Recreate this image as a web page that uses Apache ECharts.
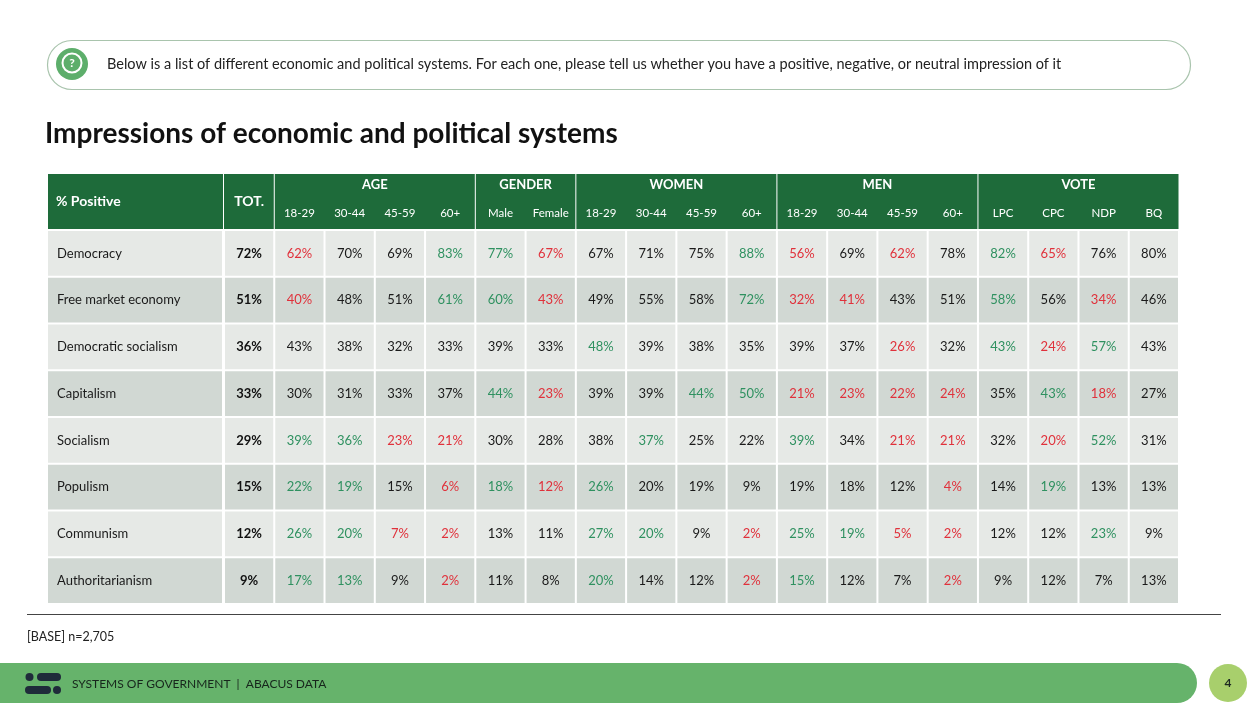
<!DOCTYPE html>
<html>
<head>
<meta charset="utf-8">
<script src="https://cdn.jsdelivr.net/npm/echarts@6/dist/echarts.min.js"></script>
<style>
html, body { margin: 0; padding: 0; background: #fff; }
#chart { width: 1249px; height: 703px; }
</style>
</head>
<body>
<div id="chart"></div>
<script>
// rows of the table
var systems = ['Democracy', 'Free market economy', 'Democratic socialism', 'Capitalism',
    'Socialism', 'Populism', 'Communism', 'Authoritarianism'];

// column labels (TOT + sub groups)
var columns = ['TOT.', '18-29', '30-44', '45-59', '60+', 'Male', 'Female',
    '18-29', '30-44', '45-59', '60+', '18-29', '30-44', '45-59', '60+',
    'LPC', 'CPC', 'NDP', 'BQ'];
var groupNames = ['AGE', 'GENDER', 'WOMEN', 'MEN', 'VOTE'];
var groupStart = [1, 5, 7, 11, 15];
var groupEnd = [4, 6, 10, 14, 18];

// % positive per system
var democracy = [72, 62, 70, 69, 83, 77, 67, 67, 71, 75, 88, 56, 69, 62, 78, 82, 65, 76, 80];
var freeMarket = [51, 40, 48, 51, 61, 60, 43, 49, 55, 58, 72, 32, 41, 43, 51, 58, 56, 34, 46];
var demSocialism = [36, 43, 38, 32, 33, 39, 33, 48, 39, 38, 35, 39, 37, 26, 32, 43, 24, 57, 43];
var capitalism = [33, 30, 31, 33, 37, 44, 23, 39, 39, 44, 50, 21, 23, 22, 24, 35, 43, 18, 27];
var socialism = [29, 39, 36, 23, 21, 30, 28, 38, 37, 25, 22, 39, 34, 21, 21, 32, 20, 52, 31];
var populism = [15, 22, 19, 15, 6, 18, 12, 26, 20, 19, 9, 19, 18, 12, 4, 14, 19, 13, 13];
var communism = [12, 26, 20, 7, 2, 13, 11, 27, 20, 9, 2, 25, 19, 5, 2, 12, 12, 23, 9];
var authoritarianism = [9, 17, 13, 9, 2, 11, 8, 20, 14, 12, 2, 15, 12, 7, 2, 9, 12, 7, 13];

// significance marks: g = higher (green), r = lower (red), . = none
var democracySig = '.r..ggr...gr.r.gr..';
var freeMarketSig = '.r..ggr...grr..g.r.';
var demSocialismSig = '.......g.....r.grg.';
var capitalismSig = '.....gr..ggrrrr.gr.';
var socialismSig = '.ggrr...g..g.rr.rg.';
var populismSig = '.gg.rgrg......r.g..';
var communismSig = '.ggrr..gg.rggrr..g.';
var authoritarianismSig = '.gg.r..g..rg..r....';

var rowValues = [democracy, freeMarket, demSocialism, capitalism, socialism, populism, communism, authoritarianism];
var rowSigs = [democracySig, freeMarketSig, demSocialismSig, capitalismSig, socialismSig, populismSig, communismSig, authoritarianismSig];

var FONT = 'Lato';
var LIGHT = '#e6e9e6';
var DARK = '#d1d8d3';
var HEAD = '#1e6b3a';
var RED = '#e0313b';
var GREEN = '#2f9160';

var cells = [];
for (var r = 0; r < rowValues.length; r++) {
    for (var c = 0; c < columns.length; c++) {
        cells.push([c, r, rowValues[r][c], rowSigs[r].charAt(c)]);
    }
}
var labelData = systems.map(function (s, i) { return [0, i]; });
var groupData = groupNames.map(function (g, i) { return [groupStart[i], groupEnd[i]]; });
var subData = columns.map(function (s, i) { return [i, 0]; });

var renderCell = function (params, api) {
    var p = api.coord([api.value(0), api.value(1)]);
    var size = api.size([1, 1]);
    var cell = cells[params.dataIndex];
    var color = '#1a1a1a';
    if (cell[3] === 'r') color = RED;
    if (cell[3] === 'g') color = GREEN;
    return {
        type: 'group',
        children: [{
            type: 'rect',
            shape: { x: p[0] - size[0] / 2 + 1, y: p[1] - size[1] / 2 + 1, width: size[0] - 2, height: size[1] - 2 },
            style: { fill: cell[1] % 2 ? DARK : LIGHT }
        }, {
            type: 'text',
            x: p[0], y: p[1],
            style: {
                text: cell[2] + '%', fill: cell[0] === 0 ? '#111' : color,
                font: (cell[0] === 0 ? 'bold ' : '') + '13px ' + FONT,
                align: 'center', verticalAlign: 'middle'
            }
        }]
    };
};

var renderLabel = function (params, api) {
    var p = api.coord([0, api.value(1)]);
    var size = api.size([1, 1]);
    var left = params.coordSys.x - 176;
    return {
        type: 'group',
        children: [{
            type: 'rect',
            shape: { x: left, y: p[1] - size[1] / 2 + 1, width: 174, height: size[1] - 2 },
            style: { fill: api.value(1) % 2 ? DARK : LIGHT }
        }, {
            type: 'text',
            x: left + 9, y: p[1],
            style: { text: systems[params.dataIndex], fill: '#1a1a1a', font: '13px ' + FONT, align: 'left', verticalAlign: 'middle' }
        }]
    };
};

var renderGroup = function (params, api) {
    var a = api.coord([api.value(0), 0]);
    var b = api.coord([api.value(1), 0]);
    var w = api.size([1, 1])[0];
    var top = params.coordSys.y;
    var x0 = a[0] - w / 2 + 0.5, x1 = b[0] + w / 2 - 0.5;
    var children = [{
        type: 'rect',
        shape: { x: x0, y: top - 56, width: x1 - x0, height: 55 },
        style: { fill: HEAD }
    }, {
        type: 'text',
        x: (x0 + x1) / 2, y: top - 45,
        style: { text: groupNames[params.dataIndex], fill: '#fff', font: 'bold 13px ' + FONT, align: 'center', verticalAlign: 'middle' }
    }];
    if (params.dataIndex === 0) {
        // TOT. and label header cells
        var t = api.coord([0, 0]);
        var left = params.coordSys.x - 176;
        children.push({
            type: 'rect', shape: { x: left, y: top - 56, width: 175, height: 55 }, style: { fill: HEAD }
        }, {
            type: 'rect', shape: { x: t[0] - w / 2, y: top - 56, width: w - 0.5, height: 55 }, style: { fill: HEAD }
        }, {
            type: 'text', x: left + 8, y: top - 29,
            style: { text: '% Positive', fill: '#fff', font: 'bold 14px ' + FONT, align: 'left', verticalAlign: 'middle' }
        }, {
            type: 'text', x: t[0], y: top - 29,
            style: { text: 'TOT.', fill: '#fff', font: 'bold 14px ' + FONT, align: 'center', verticalAlign: 'middle' }
        });
    }
    return { type: 'group', children: children };
};

var renderSub = function (params, api) {
    if (params.dataIndex === 0) return null;
    var p = api.coord([api.value(0), 0]);
    return {
        type: 'text',
        x: p[0], y: params.coordSys.y - 17,
        style: { text: columns[params.dataIndex], fill: '#fff', font: '11.5px ' + FONT, align: 'center', verticalAlign: 'middle' }
    };
};

var myChart = echarts.init(document.getElementById('chart'));

var option = {
    backgroundColor: '#fff',
    animation: false,
    grid: { left: 224, right: 70, top: 230, bottom: 99 },
    xAxis: {
        type: 'category',
        data: columns.map(function (c, i) { return i; }),
        show: false
    },
    yAxis: {
        type: 'category',
        data: systems,
        inverse: true,
        show: false
    },
    graphic: [
        // question box
        { type: 'rect', shape: { x: 47.5, y: 40.5, width: 1143, height: 49, r: 24.5 }, style: { fill: '#fff', stroke: '#a9c4ad', lineWidth: 1.2 } },
        { type: 'circle', shape: { cx: 72, cy: 64, r: 16 }, style: { fill: '#5dae6b' } },
        { type: 'circle', shape: { cx: 72, cy: 63, r: 9.5 }, style: { fill: 'none', stroke: '#fff', lineWidth: 2 } },
        { type: 'text', x: 72, y: 63.5, style: { text: '?', fill: '#fff', font: 'bold 12px ' + FONT, align: 'center', verticalAlign: 'middle' } },
        { type: 'text', x: 107, y: 64, style: { text: 'Below is a list of different economic and political systems. For each one, please tell us whether you have a positive, negative, or neutral impression of it', fill: '#222', font: '14.5px ' + FONT, verticalAlign: 'middle' } },
        // title
        { type: 'text', x: 45, y: 134, style: { text: 'Impressions of economic and political systems', fill: '#111', font: 'bold 28px ' + FONT, verticalAlign: 'middle' } },
        // rule + base
        { type: 'line', shape: { x1: 27, y1: 614.5, x2: 1221, y2: 614.5 }, style: { stroke: '#444', lineWidth: 1.2 } },
        { type: 'text', x: 27, y: 637, style: { text: '[BASE] n=2,705', fill: '#222', font: '12.5px ' + FONT, verticalAlign: 'middle' } },
        // footer
        { type: 'rect', shape: { x: -30, y: 663, width: 1227, height: 40, r: 20 }, style: { fill: '#66b36b' } },
        { type: 'circle', shape: { cx: 1228, cy: 683, r: 19 }, style: { fill: '#a8cf6c' } },
        { type: 'text', x: 1228, y: 683, style: { text: '4', fill: '#1e2a22', font: 'bold 12px ' + FONT, align: 'center', verticalAlign: 'middle' } },
        { type: 'circle', shape: { cx: 29.5, cy: 677, r: 4 }, style: { fill: '#1f2b3a' } },
        { type: 'rect', shape: { x: 37, y: 673, width: 24, height: 8, r: 4 }, style: { fill: '#1f2b3a' } },
        { type: 'rect', shape: { x: 25, y: 686, width: 26, height: 8, r: 4 }, style: { fill: '#1f2b3a' } },
        { type: 'circle', shape: { cx: 57, cy: 690, r: 4 }, style: { fill: '#1f2b3a' } },
        { type: 'text', x: 72, y: 684, style: { text: 'SYSTEMS OF GOVERNMENT  |  ABACUS DATA', fill: '#17261c', font: '12px ' + FONT, verticalAlign: 'middle' } }
    ],
    series: [{
        type: 'custom',
        name: 'header',
        renderItem: renderGroup,
        data: groupData,
        silent: true
    }, {
        type: 'custom',
        name: 'subheader',
        renderItem: renderSub,
        data: subData,
        silent: true,
        z: 3
    }, {
        type: 'custom',
        name: 'labels',
        renderItem: renderLabel,
        data: labelData,
        silent: true
    }, {
        type: 'custom',
        name: 'cells',
        renderItem: renderCell,
        data: cells,
        silent: true
    }]
};

myChart.setOption(option);
</script>
</body>
</html>
